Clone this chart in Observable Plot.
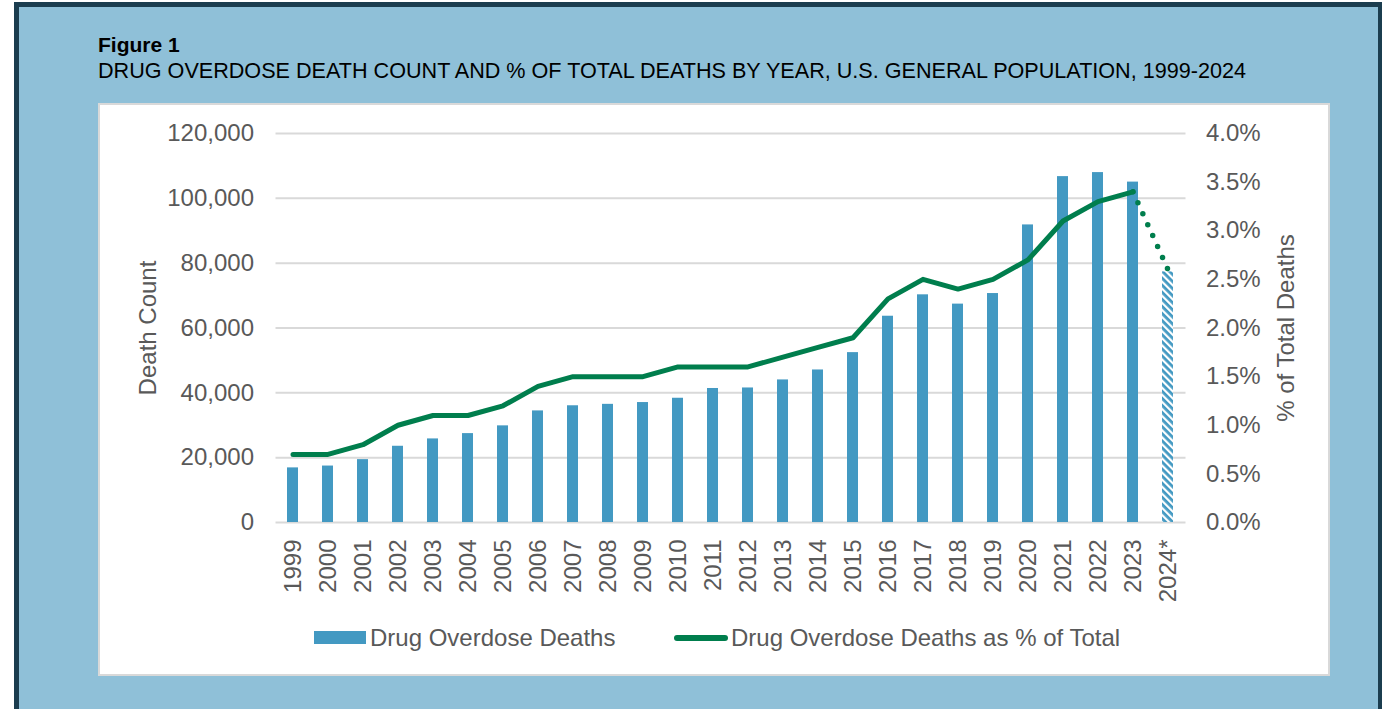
<!DOCTYPE html>
<html>
<head>
<meta charset="utf-8">
<script src="https://cdn.jsdelivr.net/npm/d3@7"></script>
<script src="https://cdn.jsdelivr.net/npm/@observablehq/plot@0.6"></script>
<style>
  html, body { margin: 0; padding: 0; }
  body { width: 1382px; height: 709px; overflow: hidden; background: #ffffff; position: relative;
         font-family: "Liberation Sans", Arial, sans-serif; }
  #frame { position: absolute; left: 14px; top: 2px; width: 1369px; height: 712px; box-sizing: border-box;
           background: #8fc0d8; border: 5px solid #1b3d4f; }
  .title { position: absolute; left: 98px; color: #000; white-space: nowrap; line-height: 20px; }
  #fig { top: 35px; font-size: 21px; font-weight: bold; }
  #sub { top: 61px; font-size: 21.6px; }
  #panel { position: absolute; left: 98px; top: 103px; width: 1232px; height: 573px; box-sizing: border-box;
           background: #ffffff; border: 2px solid #d9d9d9; }
  #chart { position: absolute; left: 0; top: 0; }
  .legend { position: absolute; top: 521px; font-size: 24px; line-height: 24px; color: #595959; white-space: nowrap; }
  .sw { position: absolute; }
</style>
</head>
<body>
<div id="frame"></div>
<div class="title" id="fig">Figure 1</div>
<div class="title" id="sub">DRUG OVERDOSE DEATH COUNT AND % OF TOTAL DEATHS BY YEAR, U.S. GENERAL POPULATION, 1999-2024</div>
<div id="panel">
  <div id="chart"></div>
  <div class="sw" style="left:214px; top:526px; width:52px; height:13px; background:#4399c2;"></div>
  <div class="legend" style="left:270px;">Drug Overdose Deaths</div>
  <div class="sw" style="left:574px; top:530px; width:54px; height:6px; border-radius:3px; background:#007e4d;"></div>
  <div class="legend" style="left:631px;">Drug Overdose Deaths as % of Total</div>
</div>
<script>
// Annual drug overdose deaths, U.S. general population (2024 provisional)
const years = ["1999", "2000", "2001", "2002", "2003", "2004", "2005", "2006", "2007", "2008",
  "2009", "2010", "2011", "2012", "2013", "2014", "2015", "2016", "2017", "2018",
  "2019", "2020", "2021", "2022", "2023", "2024*"];
const deaths = [16849, 17415, 19394, 23518, 25785, 27424, 29813, 34425, 36010, 36450,
  37004, 38329, 41340, 41502, 43982, 47055, 52404, 63632, 70237, 67367,
  70630, 91799, 106699, 107941, 105007, 77300];
// Drug overdose deaths as a share of all deaths (%)
const pctOfTotal = [0.7, 0.7, 0.8, 1.0, 1.1, 1.1, 1.2, 1.4, 1.5, 1.5,
  1.5, 1.6, 1.6, 1.6, 1.7, 1.8, 1.9, 2.3, 2.5, 2.4,
  2.5, 2.7, 3.1, 3.3, 3.4, 2.6];
const provisionalYear = "2024*";
const countTicks = [0, 20000, 40000, 60000, 80000, 100000, 120000];
const pctTicks = [0, 0.5, 1.0, 1.5, 2.0, 2.5, 3.0, 3.5, 4.0];

const BLUE = "#4399c2";
const GREEN = "#007e4d";
const GRID = "#d9d9d9";

// The percentage series shares the count scale: the top of both axes line up.
const k = countTicks[countTicks.length - 1] / pctTicks[pctTicks.length - 1];

const rows = years.map((year, i) => ({
  year, deaths: deaths[i], pct: pctOfTotal[i], provisional: year === provisionalYear
}));
const actual = rows.filter(d => !d.provisional);
const projected = rows.slice(-2);

// Diagonal hatch used for the provisional bar
const hatchDefs = () => {
  const ns = "http://www.w3.org/2000/svg";
  const defs = document.createElementNS(ns, "defs");
  const pat = document.createElementNS(ns, "pattern");
  pat.setAttribute("id", "hatch");
  pat.setAttribute("patternUnits", "userSpaceOnUse");
  pat.setAttribute("width", "5");
  pat.setAttribute("height", "5");
  pat.setAttribute("patternTransform", "rotate(45)");
  const bg = document.createElementNS(ns, "rect");
  bg.setAttribute("width", "5"); bg.setAttribute("height", "5"); bg.setAttribute("fill", "#ffffff");
  const stripe = document.createElementNS(ns, "rect");
  stripe.setAttribute("width", "5"); stripe.setAttribute("height", "2.8"); stripe.setAttribute("fill", BLUE);
  pat.appendChild(bg); pat.appendChild(stripe);
  defs.appendChild(pat);
  return defs;
};

const chart = Plot.plot({
  width: 1228,
  height: 500,
  marginLeft: 175.5,
  marginRight: 142.5,
  marginTop: 28,
  marginBottom: 83,
  style: {
    fontFamily: "'Liberation Sans', Arial, sans-serif",
    fontSize: "24px",
    color: "#595959",
    background: "transparent",
    overflow: "visible"
  },
  x: { type: "band", domain: years, paddingInner: 0.68, paddingOuter: 0.34, label: null },
  y: { domain: [0, countTicks[countTicks.length - 1]], label: null },
  marks: [
    hatchDefs,
    Plot.ruleY(countTicks, { stroke: GRID, strokeWidth: 2 }),
    Plot.barY(actual, { x: "year", y: "deaths", fill: BLUE }),
    Plot.barY(rows.filter(d => d.provisional), { x: "year", y: "deaths", fill: "url(#hatch)" }),
    Plot.line(actual, {
      x: "year", y: d => d.pct * k, stroke: GREEN, strokeWidth: 5,
      strokeLinejoin: "round", strokeLinecap: "round"
    }),
    Plot.line(projected, {
      x: "year", y: d => d.pct * k, stroke: GREEN, strokeWidth: 5.5,
      strokeDasharray: "0 12", strokeLinecap: "round"
    }),
    Plot.axisY(countTicks, {
      anchor: "left", tickSize: 0, tickPadding: 22, label: null,
      tickFormat: d3.format(",")
    }),
    Plot.axisY(pctTicks.map(p => p * k), {
      anchor: "right", tickSize: 0, tickPadding: 20, label: null,
      tickFormat: d => (d / k).toFixed(1) + "%"
    }),
    Plot.axisX({ tickSize: 0, tickRotate: -90, tickPadding: 17, label: null }),
    Plot.text(["Death Count"], {
      frameAnchor: "left", dx: -128, rotate: -90, text: d => d, textAnchor: "middle",
      fontSize: 24, fill: "#595959", lineAnchor: "middle"
    }),
    Plot.text(["% of Total Deaths"], {
      frameAnchor: "right", dx: 100, rotate: -90, text: d => d, textAnchor: "middle",
      fontSize: 24, fill: "#595959", lineAnchor: "middle"
    })
  ]
});
document.getElementById("chart").appendChild(chart);
</script>
</body>
</html>
